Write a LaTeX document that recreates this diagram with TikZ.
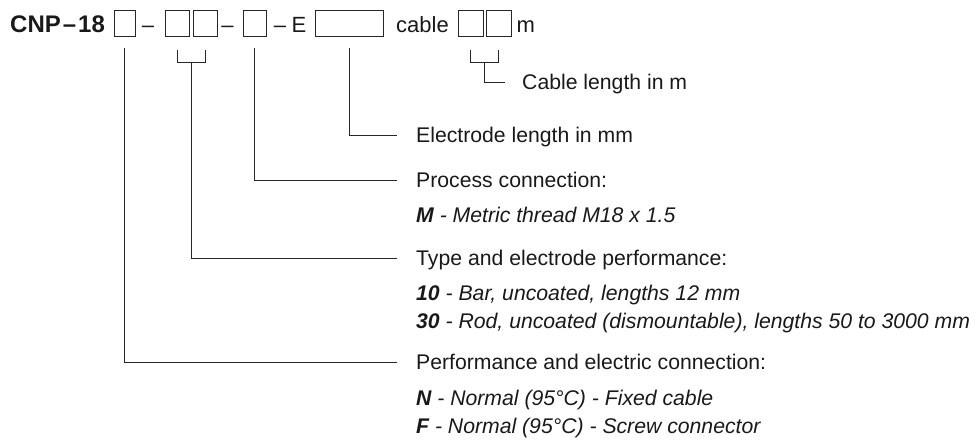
\documentclass[tikz,border=0pt]{standalone}
\usepackage{fontspec}
\setmainfont{Liberation Sans}
\usetikzlibrary{calc}
\begin{document}
\begin{tikzpicture}[x=1pt,y=-1pt,
  slot/.style={draw=black!85, line width=0.9pt, inner sep=0pt, minimum height=26pt},
  lead/.style={draw=black!85, line width=1pt},
  lbl/.style={anchor=base west, inner sep=0pt, text=black!90, font=\fontsize{21.2}{23}\selectfont},
  hdr/.style={anchor=base west, inner sep=0pt, text=black!90, font=\fontsize{22}{24}\selectfont},
  dsh/.style={anchor=base, inner sep=0pt, text=black!90, font=\fontsize{22}{24}\selectfont},
]
\useasboundingbox (0,0) rectangle (977,445);
% header
\node[hdr, font=\fontsize{24}{26}\selectfont\bfseries] (cnp) at (10,32) {CNP\kern2pt–\kern2pt18};
\node[slot, minimum width=21pt] (b1) at (124.5,23) {};
\node[dsh] (d1) at (148,32) {–};
\node[slot, minimum width=24pt] (b2a) at (177,23) {};
\node[slot, minimum width=24pt] (b2b) at (205,23) {};
\node[dsh] (d2) at (227.5,32) {–};
\node[slot, minimum width=23pt] (b3) at (254.5,23) {};
\node[dsh] (d3) at (280,32) {–};
\node[hdr] (e) at (291.5,32) {E};
\node[slot, minimum width=68pt] (b4) at (349,23) {};
\node[hdr] (cab) at (396,32) {cable};
\node[slot, minimum width=25pt] (b5a) at (470.5,23) {};
\node[slot, minimum width=25pt] (b5b) at (498.5,23) {};
\node[hdr] (m) at (516.5,32) {m};
% labels
\node[lbl] (lcab) at (522,89.5) {Cable length in m};
\node[lbl] (lel) at (416,142.5) {Electrode length in mm};
\node[lbl] (lpc) at (416,187.5) {Process connection:};
\node[lbl] (lpcm) at (416,222) {\itshape{\bfseries M} - Metric thread M18 x 1.5};
\node[lbl] (lty) at (416,265) {Type and electrode performance:};
\node[lbl] (lty1) at (416,300) {\itshape{\bfseries 10} - Bar, uncoated, lengths 12 mm};
\node[lbl] (lty2) at (416,328) {\itshape{\bfseries 30} - Rod, uncoated (dismountable), lengths 50 to 3000 mm};
\node[lbl] (lpe) at (416,369.5) {Performance and electric connection:};
\node[lbl] (lpen) at (416,405) {\itshape{\bfseries N} - Normal (95°C) - Fixed cable};
\node[lbl] (lpef) at (416,433) {\itshape{\bfseries F} - Normal (95°C) - Screw connector};
% connectors
\draw[lead] ($(b1.south)+(0,12)$) |- ($(lpe.base west)+(-19,-7.5)$);
\coordinate (k2) at ($(b2a.south)!0.5!(b2b.south)+(0,26)$);
\draw[lead] ($(b2a.south)+(0,14)$) |- (k2) -| ($(b2b.south)+(0,14)$);
\draw[lead] (k2) |- ($(lty.base west)+(-19,-7)$);
\draw[lead] ($(b3.south)+(0,12)$) |- ($(lpc.base west)+(-19,-7.5)$);
\draw[lead] ($(b4.south)+(0,12)$) |- ($(lel.base west)+(-19,-7.5)$);
\coordinate (k5) at ($(b5a.south)!0.5!(b5b.south)+(0,26)$);
\draw[lead] ($(b5a.south)+(0,14)$) |- (k5) -| ($(b5b.south)+(0,14)$);
\draw[lead] (k5) |- ($(lcab.base west)+(-17,-7.5)$);
\end{tikzpicture}
\end{document}
